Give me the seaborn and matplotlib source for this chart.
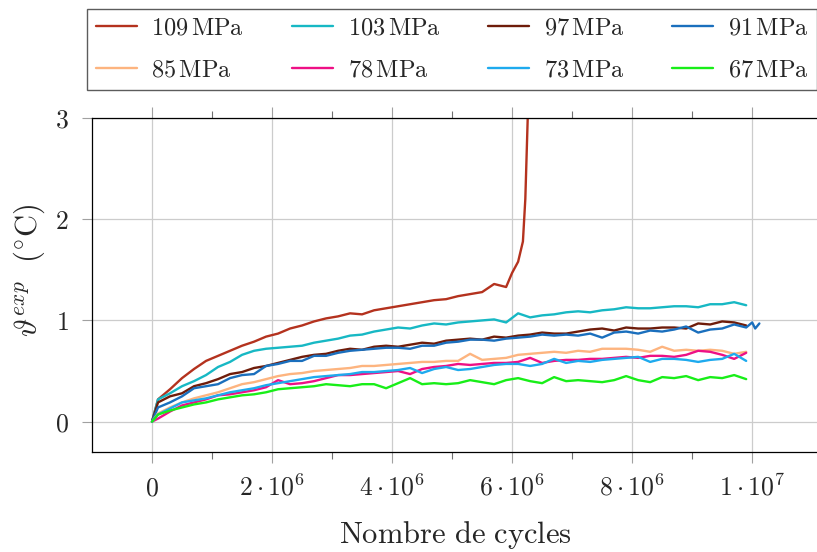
import pandas as pd
import seaborn as sns
import matplotlib.pyplot as plt
from matplotlib.lines import Line2D

# nombre de cycles (en millions)
cycles = [0, 0.1, 0.3, 0.5, 0.7, 0.9, 1.1, 1.3, 1.5, 1.7, 1.9, 2.1, 2.3, 2.5, 2.7, 2.9,
          3.1, 3.3, 3.5, 3.7, 3.9, 4.1, 4.3, 4.5, 4.7, 4.9, 5.1, 5.3, 5.5, 5.7, 5.9,
          6.1, 6.3, 6.5, 6.7, 6.9, 7.1, 7.3, 7.5, 7.7, 7.9, 8.1, 8.3, 8.5, 8.7, 8.9,
          9.1, 9.3, 9.5, 9.7, 9.9]

# 109 MPa : rupture vers 6.3e6 cycles
cycles_109 = cycles[:31] + [6.0, 6.1, 6.18, 6.22, 6.26, 6.3]
theta_109 = [0, 0.22, 0.32, 0.43, 0.52, 0.60, 0.65, 0.70, 0.75, 0.79,
             0.84, 0.87, 0.92, 0.95, 0.99, 1.02, 1.04, 1.07, 1.06, 1.10,
             1.12, 1.14, 1.16, 1.18, 1.20, 1.21, 1.24, 1.26, 1.28, 1.36,
             1.33, 1.47, 1.58, 1.78, 2.2, 3.0, 3.5]

theta_103 = [0, 0.22, 0.28, 0.35, 0.40, 0.46, 0.54, 0.59, 0.66, 0.70,
             0.72, 0.73, 0.74, 0.75, 0.78, 0.80, 0.82, 0.85, 0.86, 0.89,
             0.91, 0.93, 0.92, 0.95, 0.97, 0.96, 0.98, 0.99, 1.00, 1.01,
             0.98, 1.07, 1.03, 1.05, 1.06, 1.08, 1.09, 1.08, 1.10, 1.11,
             1.13, 1.12, 1.12, 1.13, 1.14, 1.14, 1.13, 1.16, 1.16, 1.18,
             1.15]

theta_97 = [0, 0.19, 0.25, 0.28, 0.35, 0.38, 0.42, 0.47, 0.49, 0.53,
            0.55, 0.58, 0.61, 0.64, 0.66, 0.67, 0.70, 0.72, 0.71, 0.74,
            0.75, 0.74, 0.76, 0.78, 0.77, 0.80, 0.81, 0.82, 0.81, 0.84,
            0.83, 0.85, 0.86, 0.88, 0.87, 0.87, 0.89, 0.91, 0.92, 0.90,
            0.93, 0.92, 0.92, 0.93, 0.93, 0.92, 0.97, 0.96, 0.99, 0.98,
            0.95]

cycles_91 = cycles + [10.0, 10.05, 10.12]
theta_91 = [0, 0.14, 0.19, 0.25, 0.33, 0.35, 0.37, 0.43, 0.46, 0.47,
            0.55, 0.57, 0.60, 0.60, 0.65, 0.65, 0.68, 0.70, 0.71, 0.72,
            0.73, 0.73, 0.72, 0.75, 0.75, 0.78, 0.79, 0.81, 0.81, 0.80,
            0.82, 0.83, 0.84, 0.86, 0.85, 0.86, 0.85, 0.87, 0.83, 0.88,
            0.89, 0.87, 0.90, 0.89, 0.91, 0.94, 0.88, 0.91, 0.92, 0.96,
            0.93, 0.98, 0.92, 0.97]

theta_85 = [0, 0.08, 0.14, 0.19, 0.23, 0.26, 0.29, 0.33, 0.37, 0.39,
            0.42, 0.45, 0.47, 0.48, 0.50, 0.51, 0.52, 0.53, 0.55, 0.55,
            0.56, 0.57, 0.58, 0.59, 0.59, 0.60, 0.60, 0.67, 0.61, 0.62,
            0.63, 0.66, 0.67, 0.68, 0.69, 0.68, 0.70, 0.69, 0.72, 0.72,
            0.72, 0.71, 0.69, 0.74, 0.70, 0.71, 0.70, 0.71, 0.70, 0.67,
            0.69]

theta_78 = [0, 0.03, 0.10, 0.16, 0.19, 0.22, 0.26, 0.27, 0.29, 0.31,
            0.34, 0.41, 0.37, 0.38, 0.40, 0.43, 0.46, 0.46, 0.47, 0.48,
            0.49, 0.50, 0.47, 0.52, 0.54, 0.55, 0.57, 0.56, 0.57, 0.58,
            0.58, 0.59, 0.63, 0.58, 0.60, 0.61, 0.61, 0.62, 0.62, 0.63,
            0.64, 0.63, 0.65, 0.65, 0.64, 0.66, 0.70, 0.69, 0.66, 0.62,
            0.68]

theta_73 = [0, 0.07, 0.13, 0.19, 0.21, 0.23, 0.26, 0.29, 0.31, 0.33,
            0.36, 0.38, 0.40, 0.42, 0.44, 0.45, 0.46, 0.47, 0.49, 0.49,
            0.50, 0.51, 0.53, 0.48, 0.52, 0.54, 0.51, 0.52, 0.54, 0.56,
            0.57, 0.57, 0.55, 0.57, 0.62, 0.58, 0.60, 0.59, 0.61, 0.62,
            0.63, 0.64, 0.59, 0.62, 0.62, 0.61, 0.59, 0.61, 0.62, 0.67,
            0.60]

theta_67 = [0, 0.07, 0.11, 0.14, 0.17, 0.19, 0.22, 0.24, 0.26, 0.27,
            0.29, 0.32, 0.33, 0.34, 0.35, 0.37, 0.36, 0.35, 0.37, 0.37,
            0.33, 0.38, 0.43, 0.37, 0.38, 0.37, 0.38, 0.41, 0.39, 0.37,
            0.41, 0.43, 0.40, 0.38, 0.44, 0.40, 0.41, 0.40, 0.39, 0.41,
            0.45, 0.41, 0.39, 0.44, 0.43, 0.45, 0.41, 0.44, 0.43, 0.46,
            0.42]

series = [
    (r'$109\,\mathrm{MPa}$', cycles_109, theta_109, '#b4321e'),
    (r'$103\,\mathrm{MPa}$', cycles, theta_103, '#17b8c4'),
    (r'$97\,\mathrm{MPa}$', cycles, theta_97, '#6e1c0a'),
    (r'$91\,\mathrm{MPa}$', cycles_91, theta_91, '#1a6fbd'),
    (r'$85\,\mathrm{MPa}$', cycles, theta_85, '#fdb47f'),
    (r'$78\,\mathrm{MPa}$', cycles, theta_78, '#ee1085'),
    (r'$73\,\mathrm{MPa}$', cycles, theta_73, '#1eaaee'),
    (r'$67\,\mathrm{MPa}$', cycles, theta_67, '#18ee18'),
]

rows = []
for nom, xs, ys, _ in series:
    for x, y in zip(xs, ys):
        rows.append({'serie': nom, 'cycles': x * 1e6, 'theta': y})
df = pd.DataFrame(rows)
palette = {nom: c for nom, _, _, c in series}

sns.set_style('white')
plt.rcParams['font.family'] = ['cmr10', 'DejaVu Serif']
plt.rcParams['mathtext.fontset'] = 'cm'
plt.rcParams['axes.formatter.use_mathtext'] = True
plt.rcParams['axes.unicode_minus'] = False

fig = plt.figure(figsize=(8.17, 5.52), dpi=100)
ax = fig.add_axes([92 / 817, 1 - 452 / 552, 725 / 817, 334 / 552])

sns.lineplot(data=df, x='cycles', y='theta', hue='serie', palette=palette,
             estimator=None, sort=False, lw=1.7, legend=False, ax=ax)

ax.set_xlim(-1e6, 11.08e6)
ax.set_ylim(-0.3, 3)

ax.set_xticks([0, 2e6, 4e6, 6e6, 8e6, 1e7],
              labels=[r'$0$', r'$2\cdot10^{6}$', r'$4\cdot10^{6}$', r'$6\cdot10^{6}$',
                      r'$8\cdot10^{6}$', r'$1\cdot10^{7}$'],
              va='baseline', fontsize=18.5)
ax.set_xticks([1e6, 3e6, 5e6, 7e6, 9e6], minor=True)
ax.set_yticks([0, 1, 2, 3], labels=[r'$0$', r'$1$', r'$2$', r'$3$'], fontsize=18.5)

ax.tick_params(axis='x', which='major', direction='out', length=8, width=0.8,
               color='#a0a0a0', top=True, bottom=True, pad=23)
ax.tick_params(axis='x', which='minor', direction='out', length=5, width=0.8,
               color='#707070', top=True, bottom=True)
ax.tick_params(axis='y', which='major', direction='out', length=7, width=0.8,
               color='#a0a0a0', left=True, right=False, pad=10)

ax.grid(True, which='major', color='#cccccc', lw=0.9)
ax.spines['right'].set_visible(False)
for s in ['left', 'top', 'bottom']:
    ax.spines[s].set_color('black')
    ax.spines[s].set_linewidth(0.9)

ax.set_xlabel(r'$\mathrm{Nombre\ de\ cycles}$', fontsize=22)
ax.set_ylabel(r'$\vartheta^{exp}\ \ (^{\circ}\mathrm{C})$', fontsize=22)
ax.xaxis.set_label_coords(0.501, -0.20)
ax.yaxis.set_label_coords(-0.062, 0.545)

# legende en 2 lignes x 4 colonnes (remplissage par colonne)
ordre = [0, 4, 1, 5, 2, 6, 3, 7]
handles = [Line2D([0], [0], color=series[i][3], lw=1.7) for i in ordre]
labels = [series[i][0] for i in ordre]
leg = fig.legend(handles, labels, ncol=4, loc='lower left', mode='expand',
                 bbox_to_anchor=(87 / 817, 1 - 90 / 552, 730 / 817, 82 / 552),
                 fontsize=17.5, frameon=True, fancybox=False, edgecolor='#333333',
                 handlelength=1.7, handletextpad=0.6, borderpad=0.35,
                 labelspacing=0.8, borderaxespad=0)
leg.get_frame().set_linewidth(1.0)

plt.savefig('out.png', dpi=100)
